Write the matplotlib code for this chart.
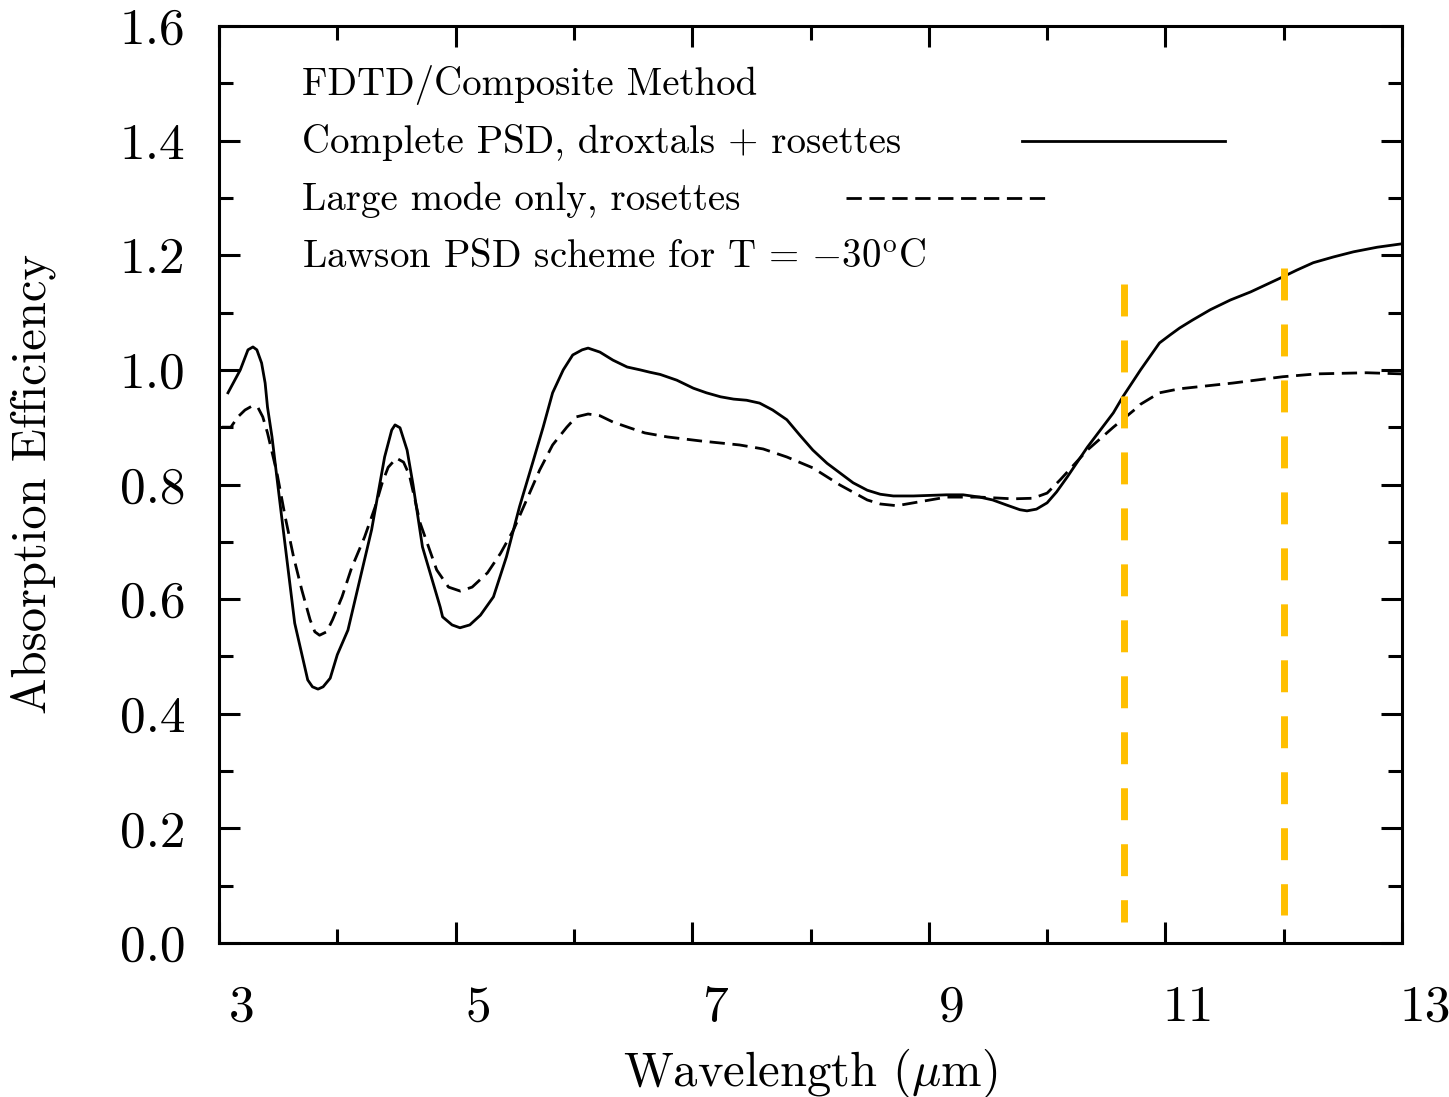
import matplotlib
matplotlib.use("Agg")
import matplotlib.pyplot as plt
from matplotlib.transforms import ScaledTranslation
from matplotlib.ticker import MultipleLocator, FixedLocator

plt.rcParams['font.family'] = ['cmr10', 'DejaVu Serif']
plt.rcParams['mathtext.fontset'] = 'cm'
plt.rcParams['axes.formatter.use_mathtext'] = True
plt.rcParams['lines.scale_dashes'] = False

# ---- data ----
wl_complete = [3.076, 3.18, 3.245, 3.287, 3.32, 3.36, 3.39, 3.41, 3.448, 3.53, 3.64, 3.75, 3.79, 3.837,
               3.88, 3.94, 4.00, 4.09, 4.29, 4.40, 4.46, 4.488, 4.53, 4.59, 4.64, 4.72, 4.87, 4.89,
               4.97, 5.037, 5.12, 5.21, 5.32, 5.43, 5.54, 5.65, 5.74, 5.82, 5.91, 5.99, 6.07, 6.12,
               6.22, 6.33, 6.45, 6.56, 6.64, 6.73, 6.87, 7.01, 7.12, 7.24, 7.35, 7.46, 7.57, 7.68,
               7.80, 7.91, 8.02, 8.14, 8.25, 8.36, 8.48, 8.59, 8.70, 8.87, 9.15, 9.29, 9.43, 9.54,
               9.66, 9.77, 9.83, 9.91, 10.0, 10.08, 10.17, 10.34, 10.56, 10.64, 10.79, 10.95, 11.04,
               11.12, 11.23, 11.38, 11.55, 11.72, 11.99, 12.11, 12.25, 12.42, 12.59, 12.79, 13.0]
q_complete = [0.960, 1.000, 1.035, 1.040, 1.035, 1.012, 0.977, 0.935, 0.883, 0.743, 0.558, 0.459, 0.447, 0.443,
              0.447, 0.462, 0.503, 0.546, 0.721, 0.848, 0.895, 0.904, 0.899, 0.860, 0.800, 0.691, 0.586, 0.569,
              0.555, 0.550, 0.555, 0.572, 0.604, 0.674, 0.761, 0.837, 0.900, 0.960, 1.000, 1.026, 1.035, 1.038,
              1.031, 1.017, 1.005, 1.000, 0.996, 0.992, 0.982, 0.968, 0.960, 0.953, 0.949, 0.947, 0.942, 0.930,
              0.913, 0.886, 0.860, 0.837, 0.820, 0.803, 0.790, 0.783, 0.780, 0.780, 0.782, 0.782, 0.778, 0.773,
              0.764, 0.756, 0.754, 0.757, 0.768, 0.787, 0.813, 0.865, 0.925, 0.953, 1.000, 1.047, 1.061,
              1.073, 1.087, 1.105, 1.122, 1.136, 1.162, 1.174, 1.187, 1.197, 1.206, 1.214, 1.220]

wl_large = [3.025, 3.10, 3.16, 3.22, 3.28, 3.33, 3.37, 3.41, 3.49, 3.56, 3.63, 3.70, 3.77, 3.81, 3.85,
            3.91, 3.96, 4.04, 4.12, 4.23, 4.32, 4.38, 4.43, 4.50, 4.56, 4.61, 4.70, 4.84, 4.94, 5.04,
            5.14, 5.27, 5.38, 5.49, 5.60, 5.71, 5.82, 5.94, 6.02, 6.12, 6.22, 6.33, 6.47, 6.60, 6.79,
            7.07, 7.40, 7.60, 7.80, 8.02, 8.25, 8.48, 8.59, 8.73, 8.87, 9.15, 9.43, 9.71, 9.88, 10.0,
            10.11, 10.34, 10.56, 10.76, 10.79, 10.95, 11.12, 11.57, 11.99, 12.28, 12.70, 13.0]
q_large = [0.900, 0.900, 0.918, 0.930, 0.937, 0.934, 0.918, 0.890, 0.820, 0.743, 0.674, 0.616, 0.564, 0.543, 0.537,
           0.543, 0.564, 0.604, 0.654, 0.708, 0.761, 0.803, 0.830, 0.846, 0.839, 0.816, 0.733, 0.651, 0.621, 0.614,
           0.621, 0.646, 0.680, 0.721, 0.773, 0.825, 0.869, 0.900, 0.918, 0.923, 0.920, 0.909, 0.899, 0.890, 0.883,
           0.876, 0.869, 0.862, 0.848, 0.829, 0.799, 0.773, 0.766, 0.763, 0.768, 0.778, 0.778, 0.775, 0.776, 0.785,
           0.808, 0.860, 0.900, 0.934, 0.940, 0.960, 0.967, 0.977, 0.988, 0.993, 0.995, 0.993]

channel_wl = [10.646, 12.0]
channel_top = [1.150, 1.178]
channel_bottom = [0.037, 0.049]

legend_lines = ["FDTD/Composite Method",
                "Complete PSD, droxtals + rosettes",
                "Large mode only, rosettes",
                r"Lawson PSD scheme for T = $-$30$^{\rm o}$C"]
legend_y = [1.5, 1.4, 1.3, 1.2]

x_major = [3, 5, 7, 9, 11, 13]
y_major = [0.0, 0.2, 0.4, 0.6, 0.8, 1.0, 1.2, 1.4, 1.6]

# ---- figure ----
fig = plt.figure(figsize=(14.49, 10.97), dpi=100)
ax = fig.add_axes([219/1449, 1 - 943/1097, (1402-219)/1449, (943-26)/1097])
ax.set_xlim(3, 13)
ax.set_ylim(0, 1.6)

LW = 2.0
DASH = (11, 5.5)
ax.plot(wl_complete, q_complete, color='black', lw=LW, solid_joinstyle='round')
ax.plot(wl_large, q_large, color='black', lw=LW, dashes=DASH)

for xw, yt, yb in zip(channel_wl, channel_top, channel_bottom):
    ax.plot([xw, xw], [yt, yb], color='#FFBF00', lw=5.0, dashes=(23, 17.3),
            solid_capstyle='butt', dash_capstyle='butt')

# legend-like annotation
for txt, yy in zip(legend_lines, legend_y):
    ax.text(3.70, yy - 0.021, txt, fontsize=28, va='baseline', ha='left')
ax.plot([9.788, 11.504], [1.4, 1.4], color='black', lw=LW)
ax.plot([8.30, 10.016], [1.3, 1.3], color='black', lw=LW, dashes=DASH)

# ticks
ax.xaxis.set_major_locator(FixedLocator(x_major))
ax.xaxis.set_minor_locator(MultipleLocator(1))
ax.yaxis.set_major_locator(FixedLocator(y_major))
ax.yaxis.set_minor_locator(MultipleLocator(0.1))
ax.set_yticklabels([f"{v:.1f}" for v in y_major])
ax.set_xticklabels([str(v) for v in x_major])
ax.tick_params(which='both', direction='in', top=True, right=True, width=2.2, labelsize=37)
ax.tick_params(which='major', length=15)
ax.tick_params(which='minor', length=10)
ax.tick_params(axis='y', pad=24)
ax.tick_params(axis='x', pad=30)
for lab in ax.get_xticklabels():
    lab.set_transform(lab.get_transform() + ScaledTranslation(0.23, 0, fig.dpi_scale_trans))
for sp in ax.spines.values():
    sp.set_linewidth(2.2)

ax.set_xlabel(r"Wavelength ($\mu$m)", fontsize=35)
ax.set_ylabel("Absorption Efficiency", fontsize=35)
ax.xaxis.set_label_coords(0.5, -0.113)
ax.yaxis.set_label_coords(-0.138, 0.5)

fig.savefig("out.png", dpi=100)
